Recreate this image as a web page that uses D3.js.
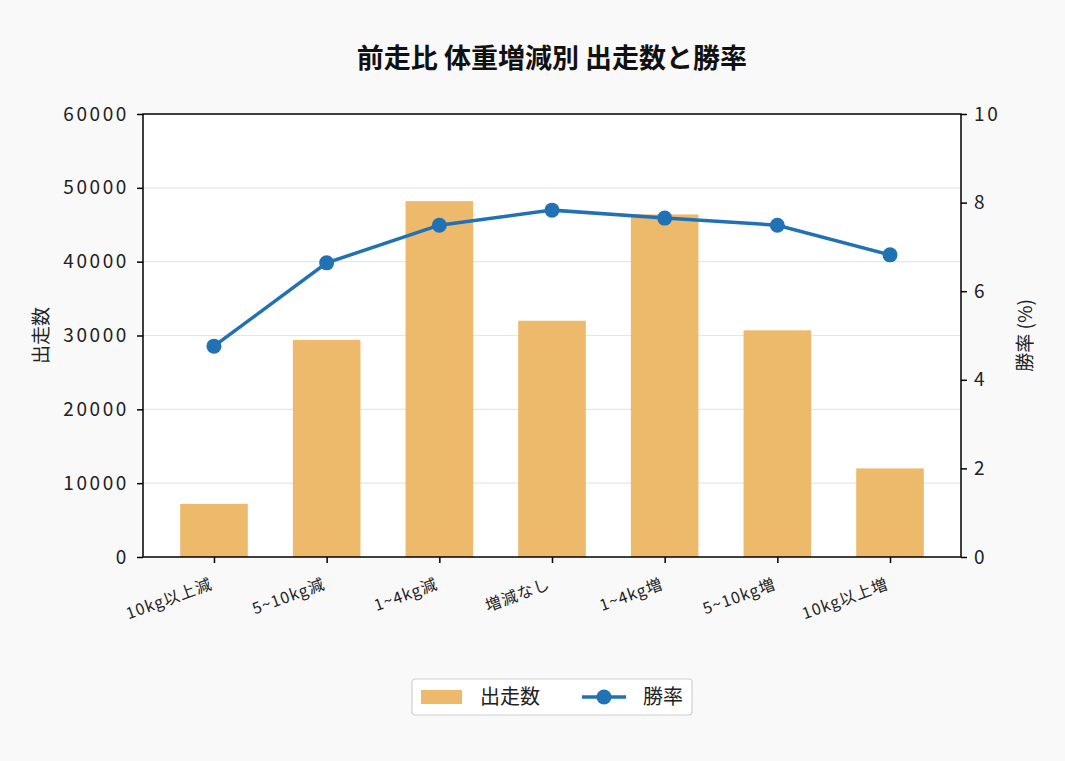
<!DOCTYPE html>
<html>
<head>
<meta charset="utf-8">
<script src="https://cdn.jsdelivr.net/npm/d3@7"></script>
<style>
  body { margin: 0; background: #f9f9f9; }
  text { font-family: "Noto Sans CJK JP", "Noto Sans", sans-serif; }
</style>
</head>
<body>
<div id="chart"></div>
<script>
// データ
const categories = ["10kg以上減", "5~10kg減", "1~4kg減", "増減なし", "1~4kg増", "5~10kg増", "10kg以上増"];
const runners = [7200, 29400, 48200, 32000, 46400, 30700, 12000];
const winRate = [4.76, 6.64, 7.49, 7.83, 7.65, 7.49, 6.82];
const leftTicks = [0, 10000, 20000, 30000, 40000, 50000, 60000];
const rightTicks = [0, 2, 4, 6, 8, 10];

const width = 1065;
const height = 761;
const margin = { top: 114, right: 104, bottom: 204, left: 143 };
const plotW = width - margin.left - margin.right;
const plotH = height - margin.top - margin.bottom;

const barColor = "#edb96b";
const lineColor = "#2171b5";

const svg = d3.select("#chart").append("svg")
  .attr("width", width)
  .attr("height", height);

svg.append("rect").attr("width", width).attr("height", height).attr("fill", "#f9f9f9");

const g = svg.append("g").attr("transform", "translate(" + margin.left + "," + margin.top + ")");

g.append("rect").attr("width", plotW).attr("height", plotH).attr("fill", "#fff");

// x軸はインデックスの線形スケール
const x = d3.scaleLinear().domain([-0.63, categories.length - 1 + 0.63]).range([0, plotW]);
const yL = d3.scaleLinear().domain([0, 60000]).range([plotH, 0]);
const yR = d3.scaleLinear().domain([0, 10]).range([plotH, 0]);
const barW = x(0.6) - x(0);

// グリッド
g.selectAll(".grid").data(leftTicks.slice(1, -1)).enter().append("line")
  .attr("x1", 0).attr("x2", plotW)
  .attr("y1", d => yL(d)).attr("y2", d => yL(d))
  .attr("stroke", "#e6e6e6").attr("stroke-width", 1.2);

// 棒
g.selectAll(".bar").data(runners).enter().append("rect")
  .attr("x", (d, i) => x(i) - barW / 2)
  .attr("y", d => yL(d))
  .attr("width", barW)
  .attr("height", d => plotH - yL(d))
  .attr("fill", barColor);

// 折れ線
const line = d3.line().x((d, i) => x(i)).y(d => yR(d));
g.append("path").datum(winRate)
  .attr("d", line)
  .attr("fill", "none")
  .attr("stroke", lineColor)
  .attr("stroke-width", 3.5);
g.selectAll(".pt").data(winRate).enter().append("circle")
  .attr("cx", (d, i) => x(i)).attr("cy", d => yR(d))
  .attr("r", 7.5).attr("fill", lineColor);

// 枠
g.append("rect").attr("width", plotW).attr("height", plotH)
  .attr("fill", "none").attr("stroke", "#000").attr("stroke-width", 1.5);

// 左軸
const axL = g.append("g").call(d3.axisLeft(yL).tickValues(leftTicks).tickSize(6).tickPadding(8).tickFormat(d3.format("d")));
axL.select(".domain").remove();
axL.selectAll("text").attr("font-size", 19).attr("letter-spacing", 2.6).attr("fill", "#222");
axL.selectAll("line").attr("stroke-width", 1.5);

// 右軸
const axR = g.append("g").attr("transform", "translate(" + plotW + ",0)")
  .call(d3.axisRight(yR).tickValues(rightTicks).tickSize(6).tickPadding(7));
axR.select(".domain").remove();
axR.selectAll("text").attr("font-size", 19).attr("letter-spacing", 2.6).attr("fill", "#222");
axR.selectAll("line").attr("stroke-width", 1.5);

// 下軸
const axB = g.append("g").attr("transform", "translate(0," + plotH + ")")
  .call(d3.axisBottom(x).tickValues(d3.range(categories.length)).tickSize(6).tickFormat(i => categories[i]));
axB.select(".domain").remove();
axB.selectAll("line").attr("stroke-width", 1.5);
axB.selectAll("text")
  .attr("font-size", 16).attr("letter-spacing", 1).attr("fill", "#222")
  .attr("text-anchor", "end")
  .attr("dy", 0)
  .attr("transform", "translate(-4,23) rotate(-20)");

// 軸タイトル
svg.append("text")
  .attr("transform", "translate(48," + (margin.top + plotH / 2) + ") rotate(-90)")
  .attr("text-anchor", "middle").attr("font-size", 19).attr("fill", "#222")
  .text("出走数");
svg.append("text")
  .attr("transform", "translate(1032," + (margin.top + plotH / 2) + ") rotate(-90)")
  .attr("text-anchor", "middle").attr("font-size", 19).attr("fill", "#222")
  .text("勝率 (%)");

// タイトル
svg.append("text")
  .attr("x", 552).attr("y", 68)
  .attr("text-anchor", "middle").attr("font-size", 27).attr("font-weight", "bold").attr("fill", "#111")
  .text("前走比 体重増減別 出走数と勝率");

// 凡例
const lg = svg.append("g").attr("transform", "translate(412,679)");
lg.append("rect").attr("width", 280).attr("height", 36).attr("rx", 3)
  .attr("fill", "#fff").attr("stroke", "#d0d0d0").attr("stroke-width", 1.2);
lg.append("rect").attr("x", 9).attr("y", 11).attr("width", 41).attr("height", 14).attr("fill", barColor);
lg.append("text").attr("x", 68).attr("y", 25).attr("font-size", 20).attr("fill", "#222").text("出走数");
lg.append("line").attr("x1", 170).attr("x2", 214).attr("y1", 18).attr("y2", 18)
  .attr("stroke", lineColor).attr("stroke-width", 3.5);
lg.append("circle").attr("cx", 192).attr("cy", 18).attr("r", 7.5).attr("fill", lineColor);
lg.append("text").attr("x", 231).attr("y", 25).attr("font-size", 20).attr("fill", "#222").text("勝率");
</script>
</body>
</html>
